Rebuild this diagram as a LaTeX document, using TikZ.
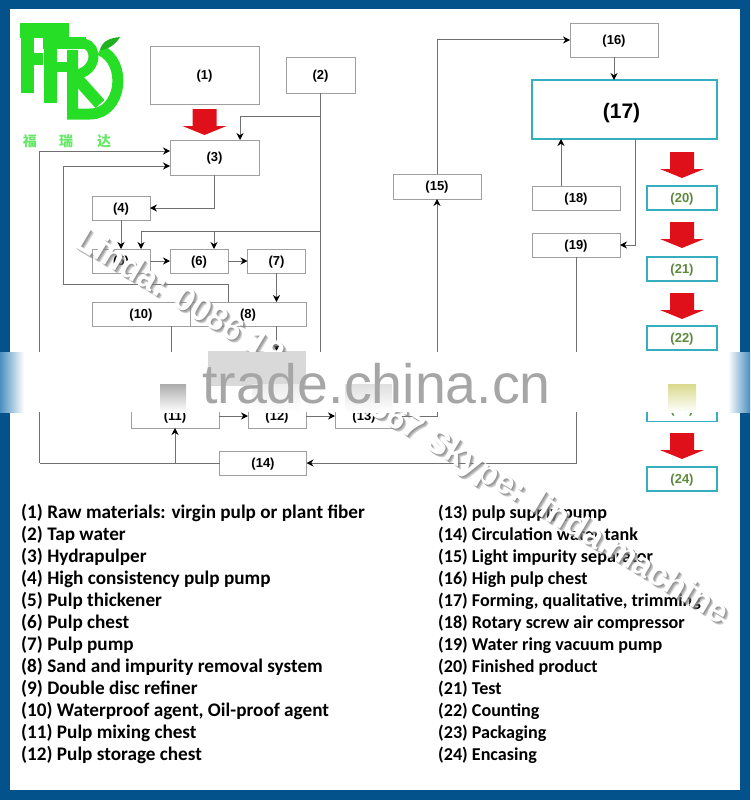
\documentclass[tikz,border=0pt]{standalone}
\usepackage{fontspec}
\usepackage{xcolor}
\usepackage{tikz}
\usetikzlibrary{arrows.meta}
\setmainfont{Liberation Sans}
\newfontfamily\listfont{Carlito}
\newfontfamily\cjkfont{Noto Sans CJK SC}
\definecolor{frame}{HTML}{04528C}
\definecolor{framepale}{HTML}{4A8FC0}
\definecolor{logogreen}{HTML}{27DE27}
\definecolor{boxcyan}{HTML}{35AFC0}
\definecolor{labgreen}{HTML}{5C8A3C}
\definecolor{arrred}{HTML}{E0101A}
\definecolor{wirecol}{HTML}{707070}
\tikzset{
    pbox/.style={draw=gray!75,line width=0.9pt,fill=white,inner sep=0pt,outer sep=0pt,
        text height=11.5pt,text depth=3pt,
        font=\bfseries\fontsize{13}{13}\selectfont},
    cbox/.style={pbox,draw=boxcyan,line width=1.3pt,text=labgreen},
    wire/.style={draw=wirecol,line width=1pt},
    feed/.style={wire,-{Stealth[length=7pt,width=7pt,color=black]}},
    logoline/.style={draw=logogreen,line cap=butt},
    cjklab/.style={text=logogreen!70,inner sep=0pt,font=\cjkfont\bfseries\fontsize{14}{14}\selectfont},
    itemtext/.style={anchor=base west,inner sep=0pt,font=\listfont\bfseries\fontsize{19.2}{19.2}\selectfont},
    wmark/.style={rotate=-31,anchor=west,inner sep=0pt,font=\bfseries\fontsize{33.6}{33.6}\selectfont},
}
\begin{document}
\begin{tikzpicture}[x=1pt,y=-1pt]
    \useasboundingbox (0,0) rectangle (750,800);
    \fill[frame] (0,0) rectangle (750,800);
    \fill[white] (10,9) rectangle (740,790);

    % logo
    \draw[logoline,line width=13pt] (27,23)--(27,93);
    \draw[logoline,line width=15pt] (20,30.5)--(69,30.5);
    \draw[logoline,line width=12pt] (27,59)--(43,59);
    \draw[logoline,line width=13pt] (50,37)--(50,103);
    \draw[logoline,line width=12pt] (43,43.5)--(86,43.5);
    \draw[logoline,line width=9pt] (50,67)--(67,67);
    \draw[logoline,line width=10pt] (84,43.5) .. controls (98,46) and (98,72) .. (74,75);
    \draw[logoline,line width=12pt] (74,75)--(100,104);
    \draw[logoline,line width=11pt] (72.5,50)--(72.5,114)--(90,114) .. controls (122,114) and (128,62) .. (100,50);
    \fill[logogreen!80!black] (100,50) .. controls (102,41) and (110,38) .. (120,37) .. controls (116,44) and (108,50) .. (100,50);
    \node[cjklab] (fu) at (30,141) {福};
    \node[cjklab] (rui) at (66,141) {瑞};
    \node[cjklab] (da) at (104,141) {达};

    % boxes of the process
    \node[pbox,minimum width=109,minimum height=58] (p1) at (204.5,75) {(1)};
    \node[pbox,minimum width=69,minimum height=36] (p2) at (320.5,75) {(2)};
    \node[pbox,minimum width=89,minimum height=35] (p3) at (214.5,157.5) {(3)};
    \node[pbox,minimum width=58,minimum height=24] (p4) at (121,208) {(4)};
    \node[pbox,minimum width=58,minimum height=24] (p5) at (121,261) {(5)};
    \node[pbox,minimum width=58,minimum height=24] (p6) at (199,261) {(6)};
    \node[pbox,minimum width=58,minimum height=24] (p7) at (276.5,261) {(7)};
    \node[pbox,minimum width=98,minimum height=24] (p10) at (141,314) {(10)};
    \node[pbox,minimum width=116,minimum height=24] (p8) at (248,314) {(8)};
    \node[pbox,minimum width=88,minimum height=24] (p11) at (175,416) {(11)};
    \node[pbox,minimum width=58,minimum height=24] (p12) at (277,416) {(12)};
    \node[pbox,minimum width=58,minimum height=24] (p13) at (364,416) {(13)};
    \node[pbox,minimum width=87,minimum height=24] (p14) at (263,463) {(14)};
    \node[pbox,minimum width=88,minimum height=25] (p15) at (437,186.5) {(15)};
    \node[pbox,minimum width=88,minimum height=34] (p16) at (614,40) {(16)};
    \node[cbox,minimum width=185,minimum height=59,text height=24pt,text depth=5.4pt,font=\bfseries\fontsize{21}{21}\selectfont,text=black] (p17) at (624.5,109.5) {\hspace*{-6pt}(17)};
    \node[pbox,minimum width=88,minimum height=24] (p18) at (576,198) {(18)};
    \node[pbox,minimum width=88,minimum height=24] (p19) at (576,245) {(19)};
    \node[cbox,minimum width=70,minimum height=24] (p20) at (682,198) {(20)};
    \node[cbox,minimum width=70,minimum height=24] (p21) at (682,269) {(21)};
    \node[cbox,minimum width=70,minimum height=24] (p22) at (682,338) {(22)};
    \node[cbox,minimum width=70,minimum height=24] (p23) at (682,409.5) {(23)};
    \node[cbox,minimum width=70,minimum height=24] (p24) at (682,479) {(24)};
    \fill[gray!30] (208,351) rectangle (306,386);

    % red arrows
    \foreach \ax/\ay in {204.5/109,682/152,682/222,682/293,682/433}
        \fill[arrred] (\ax-12,\ay)--(\ax+12,\ay)--(\ax+12,\ay+17)--(\ax+22,\ay+17)--(\ax,\ay+26)--(\ax-22,\ay+17)--(\ax-12,\ay+17)--cycle;

    % free ends of the connectors
    \coordinate (w1) at (320.5,116);
    \coordinate (w2) at (320.5,231);
    \coordinate (wend) at (320.5,400);
    \coordinate (in3a) at (240,140);
    \coordinate (in5) at (141,249);
    \coordinate (in6) at (214,249);
    \coordinate (out3) at (214,175);
    \coordinate (in3b) at (170,151);
    \coordinate (in3c) at (170,166);
    \coordinate (left1) at (39.5,463);
    \coordinate (left2) at (63,284);
    \coordinate (out8) at (228,302);
    \coordinate (out10) at (171.5,326);
    \coordinate (out18) at (561,186);
    \coordinate (out17) at (635,139);
    \coordinate (in9) at (276.5,351);

    \draw[wire] (p2.south)--(wend);
    \draw[feed] (w1) -| (in3a);
    \draw[feed] (w2) -| (in5);
    \draw[feed] (w2) -| (in6);
    \draw[feed] (out3) |- (p4.east);
    \draw[feed] (p4.south)--(p5.north);
    \draw[feed] (p5.east)--(p6.west);
    \draw[feed] (p6.east)--(p7.west);
    \draw[feed] (p7.south)--(p7.south |- p8.north);
    \draw[feed] (p7.south |- p8.south)--(in9);
    \draw[wire] (out8) |- (left2);
    \draw[feed] (left2) |- (in3c);
    \draw[wire] (out10)--(out10 |- p11.north);
    \draw[feed] (p11.east |- p12.west)--(p12.west);
    \draw[feed] (p12.east)--(p13.west);
    \draw[feed] (p13.east) -| (p15.south);
    \draw[feed] (p15.north) |- (p16.west);
    \draw[feed] (p16.south)--(p16.south |- p17.north);
    \draw[feed] (out18)--(out18 |- p17.south);
    \draw[feed] (out17) |- (p19.east);
    \draw[feed] (p19.south) |- (p14.east);
    \draw[wire] (p14.west)--(left1);
    \draw[feed] (left1) |- (in3b);
    \draw[feed] (p11.south |- p14.west)--(p11.south);

    % legend
    \foreach \n/\txt [evaluate=\n as \ty using 518+22*(\n-1)] in {
        1/{(1) Raw materials: virgin pulp or plant fiber},
        2/{(2) Tap water},
        3/{(3) Hydrapulper},
        4/{(4) High consistency pulp pump},
        5/{(5) Pulp thickener},
        6/{(6) Pulp chest},
        7/{(7) Pulp pump},
        8/{(8) Sand and impurity removal system},
        9/{(9) Double disc refiner},
        10/{(10) Waterproof agent, Oil-proof agent},
        11/{(11) Pulp mixing chest},
        12/{(12) Pulp storage chest}}
        \node[itemtext] (item\n) at (21,\ty) {\txt};
    \foreach \n/\txt [evaluate=\n as \ty using 518+22*(\n-13)] in {
        13/{(13) pulp supply pump},
        14/{(14) Circulation water tank},
        15/{(15) Light impurity separator},
        16/{(16) High pulp chest},
        17/{(17) Forming, qualitative, trimming},
        18/{(18) Rotary screw air compressor},
        19/{(19) Water ring vacuum pump},
        20/{(20) Finished product},
        21/{(21) Test},
        22/{(22) Counting},
        23/{(23) Packaging},
        24/{(24) Encasing}}
        \node[itemtext,font=\listfont\bfseries\fontsize{18.1}{18.1}\selectfont] (item\n) at (438,\ty) {\txt};

    % watermark over the drawing
    \foreach \sh/\op in {3/0.35,2/0.45,1/0.55} {
        \node[wmark,text=gray,opacity=\op] (marka\sh) at (80+\sh,236+\sh) {Linda: 0086 18};
        \node[wmark,text=gray,opacity=\op] (markb\sh) at (372+\sh,405+\sh) {567 Skype: linda.machine};
    }
    \node[wmark,text=white] (marka) at (80,236) {Linda: 0086 18};
    \node[wmark,text=white] (markb) at (372,405) {567 Skype: linda.machine};

    % band across the picture
    \fill[white] (10,352) rectangle (740,412);
    \shade[left color=framepale,right color=white] (0,352) rectangle (24,412);
    \shade[left color=white,right color=framepale] (728,352) rectangle (750,412);
    \fill[gray!30] (208,352) rectangle (306,386);
    \shade[top color=gray!65,bottom color=white] (160,384) rectangle (186,412);
    \shade[top color=gray!15,bottom color=white] (252,384) rectangle (300,412);
    \shade[top color=gray!25,bottom color=white] (345,384) rectangle (392,412);
    \shade[top color=olive!30,bottom color=white] (668,384) rectangle (696,412);
    \node[text=gray!70,font=\fontsize{55.5}{55.5}\selectfont,inner sep=0pt,anchor=base west] (trade) at (202,403) {trade.china.cn};
\end{tikzpicture}
\end{document}
